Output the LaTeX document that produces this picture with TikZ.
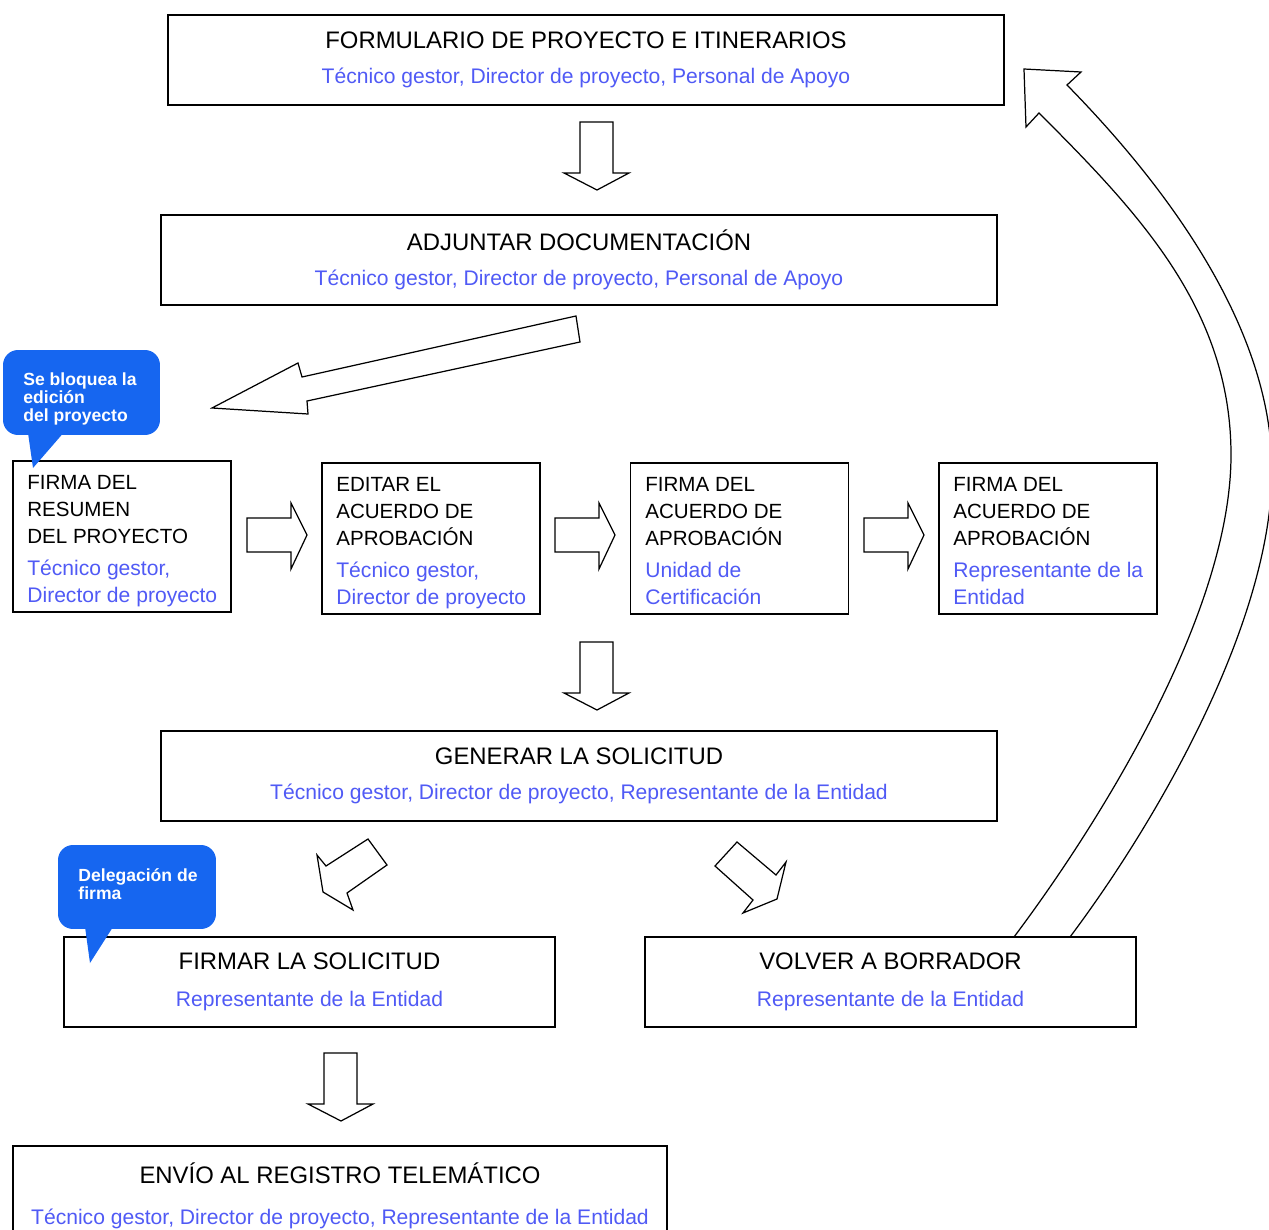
\documentclass[tikz,border=0pt]{standalone}
\usepackage{fontspec}
\setmainfont{Liberation Sans}
\usepackage{xcolor}
\definecolor{rolecol}{RGB}{80,90,245}
\definecolor{notecol}{RGB}{22,102,240}
\newcommand{\rol}[1]{{\color{rolecol}\fontsize{12}{15.5}\selectfont #1}}

\begin{document}
\begin{tikzpicture}[x=0.02cm, y=-0.02cm,
  bigbox/.style={draw, line width=0.8pt, minimum height=1.8cm, align=center,
    font=\fontsize{13.6}{16}\selectfont},
  rowbox/.style={draw, line width=0.8pt, minimum width=4.36cm, minimum height=3.02cm},
  rowtxt/.style={anchor=north west, align=left, inner sep=0pt,
    font=\fontsize{11.7}{15.5}\selectfont},
  note/.style={fill=notecol, rounded corners=0.3cm},
  notetxt/.style={text=white, align=left, inner sep=0pt,
    font=\bfseries\fontsize{10}{10.2}\selectfont},
  blk/.style={draw, line width=0.7pt, fill=white}]
  \useasboundingbox (0,0) rectangle (1269,1230);

  \node[bigbox, minimum width=16.72cm] (form) at (586,60)
    {FORMULARIO DE PROYECTO E ITINERARIOS\\[3.8pt]\rol{Técnico gestor, Director de proyecto, Personal de Apoyo}};
  \node[bigbox, minimum width=16.72cm] (adj) at (579,260)
    {ADJUNTAR DOCUMENTACIÓN\\[3.8pt]\rol{Técnico gestor, Director de proyecto, Personal de Apoyo}};

  \node[rowbox] (res) at (122,536.5) {};
  \node[rowbox] (edit) at (431,538.5) {};
  \node[rowbox] (cert) at (739.5,538.5) {};
  \node[rowbox] (ent) at (1048,538.5) {};
  \node[rowtxt] (resT) at (27,475)
    {FIRMA DEL\\RESUMEN\\DEL PROYECTO\\[2.6pt]\rol{Técnico gestor,}\\\rol{Director de proyecto}};
  \node[rowtxt] (editT) at (336,477)
    {EDITAR EL\\ACUERDO DE\\APROBACIÓN\\[2.6pt]\rol{Técnico gestor,}\\\rol{Director de proyecto}};
  \node[rowtxt] (certT) at (645,477)
    {FIRMA DEL\\ACUERDO DE\\APROBACIÓN\\[2.6pt]\rol{Unidad de}\\\rol{Certificación}};
  \node[rowtxt] (entT) at (953,477)
    {FIRMA DEL\\ACUERDO DE\\APROBACIÓN\\[2.6pt]\rol{Representante de la}\\\rol{Entidad}};

  \node[bigbox, minimum width=16.72cm] (gen) at (579,776)
    {GENERAR LA SOLICITUD\\[3.8pt]\rol{Técnico gestor, Director de proyecto, Representante de la Entidad}};
  \node[bigbox, minimum width=9.82cm] (firmar) at (309.5,982)
    {FIRMAR LA SOLICITUD\\[5pt]\rol{Representante de la Entidad}};
  \node[bigbox, minimum width=9.82cm] (volver) at (890.5,982)
    {VOLVER A BORRADOR\\[5pt]\rol{Representante de la Entidad}};
  \node[bigbox, minimum width=13.08cm, minimum height=2cm] (envio) at (340,1196)
    {ENVÍO AL REGISTRO TELEMÁTICO\\[7pt]\rol{Técnico gestor, Director de proyecto, Representante de la Entidad}};

  \draw[blk] (580,122) -- (613,122) -- (613,173) -- (629,173) -- (597,190) -- (564,173) -- (580,173) -- cycle;
  \draw[blk] (576,316) -- (580,342) -- (307,401) -- (308,414) -- (212,408) -- (298,363) -- (302,377) -- cycle;
  \draw[blk] (247,518) -- (291,518) -- (291,503) -- (307,535) -- (291,569) -- (291,552) -- (247,552) -- cycle;
  \draw[blk] (555,518) -- (599,518) -- (599,503) -- (615,535) -- (599,569) -- (599,552) -- (555,552) -- cycle;
  \draw[blk] (864,518) -- (908,518) -- (908,503) -- (924,535) -- (908,569) -- (908,552) -- (864,552) -- cycle;
  \draw[blk] (580,642) -- (613,642) -- (613,693) -- (629,693) -- (597,710) -- (564,693) -- (580,693) -- cycle;
  \draw[blk] (368,839) -- (387,865) -- (347,893) -- (353,910) -- (323,892) -- (317,855) -- (326,866) -- cycle;
  \draw[blk] (737,842) -- (776,875) -- (786,862) -- (777,899) -- (743,913) -- (753,900) -- (715,866) -- cycle;
  \draw[blk] (324,1053) -- (357,1053) -- (357,1104) -- (373,1104) -- (341,1121) -- (308,1104) -- (324,1104) -- cycle;

  \draw[line width=0.7pt] (1014,937) .. controls (1104,817) and (1231,610) .. (1231,455)
    .. controls (1231,310) and (1140,214) .. (1039,113) -- (1026,127) -- (1024,69) -- (1081,72) -- (1067,85)
    .. controls (1170,190) and (1272,330) .. (1272,470)
    .. controls (1272,620) and (1160,817) .. (1070,937);

  \node[note, minimum width=3.14cm, minimum height=1.7cm] (blq) at (81.5,392.5) {};
  \fill[notecol] ([xshift=0.5cm, yshift=0.1cm]blq.south west) -- (33,468) -- ([xshift=1.26cm, yshift=0.1cm]blq.south west) -- cycle;
  \node[notetxt] (blqT) at (80,399) {Se bloquea la\\edición\\del proyecto};
  \node[note, minimum width=3.16cm, minimum height=1.68cm] (deleg) at (137,887) {};
  \fill[notecol] ([xshift=0.54cm, yshift=0.1cm]deleg.south west) -- (90,963) -- ([xshift=1.14cm, yshift=0.1cm]deleg.south west) -- cycle;
  \node[notetxt] (delegT) at (138,884) {Delegación de\\firma};
\end{tikzpicture}
\end{document}
